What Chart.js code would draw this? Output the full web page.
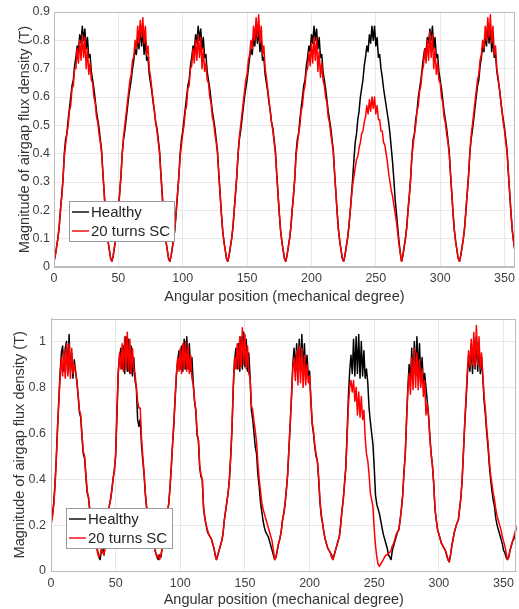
<!DOCTYPE html>
<html>
<head>
<meta charset="utf-8">
<script src="https://cdn.jsdelivr.net/npm/chart.js@4.4.0/dist/chart.umd.min.js"></script>
<style>
  body { margin: 0; background: #fff; }
  .wrap { position: absolute; left: 0; width: 519px; }
  #top { top: 0; height: 306px; }
  #bottom { top: 306px; height: 303px; }
</style>
</head>
<body>
<div class="wrap" id="top"><canvas id="fluxTop" width="519" height="306"></canvas></div>
<div class="wrap" id="bottom"><canvas id="fluxBottom" width="519" height="303"></canvas></div>
<script>
// airgap flux density magnitude, sampled every degree from 0 to 360
const angleStep = 1;
const seriesNames = ["Healthy", "20 turns SC"];
const seriesColors = ["#000000", "#ff0000"];
const xTickLabels = ["0", "50", "100", "150", "200", "250", "300", "350"];
const topYTickLabels = ["0", "0.1", "0.2", "0.3", "0.4", "0.5", "0.6", "0.7", "0.8", "0.9"];
const bottomYTickLabels = ["0", "0.2", "0.4", "0.6", "0.8", "1"];
const axisTitleX = "Angular position (mechanical degree)";
const axisTitleY = "Magnitude of airgap flux density (T)";

// upper plot
const topHealthy = [
  0.02,0.04,0.07,0.10,0.14,0.20,0.25,0.31,0.40,0.45,0.47,0.52,0.56,0.60,0.64,0.66,0.71,0.74,0.78,0.76,0.82,0.79,0.85,0.80,0.84,0.77,0.81,0.74,0.75,0.69,0.66,0.63,0.59,0.55,0.52,0.49,0.45,0.41,0.33,0.26,0.19,0.13,0.09,0.06,0.03,
  0.02,0.04,0.07,0.10,0.14,0.20,0.26,0.32,0.40,0.45,0.48,0.52,0.56,0.60,0.63,0.66,0.70,0.73,0.77,0.75,0.81,0.77,0.85,0.78,0.84,0.75,0.80,0.73,0.74,0.68,0.65,0.62,0.58,0.55,0.51,0.49,0.45,0.41,0.33,0.26,0.19,0.13,0.09,0.06,0.03,
  0.02,0.04,0.07,0.10,0.14,0.20,0.26,0.32,0.40,0.45,0.48,0.52,0.56,0.60,0.64,0.66,0.71,0.74,0.78,0.76,0.82,0.79,0.85,0.80,0.84,0.77,0.81,0.74,0.75,0.69,0.66,0.63,0.59,0.55,0.52,0.49,0.45,0.41,0.33,0.26,0.19,0.13,0.09,0.06,0.03,
  0.02,0.04,0.07,0.10,0.14,0.20,0.26,0.32,0.40,0.45,0.48,0.52,0.56,0.60,0.63,0.66,0.70,0.74,0.77,0.75,0.81,0.78,0.85,0.79,0.84,0.76,0.80,0.73,0.74,0.68,0.65,0.62,0.58,0.55,0.51,0.49,0.45,0.41,0.33,0.26,0.19,0.13,0.09,0.06,0.03,
  0.02,0.04,0.07,0.10,0.14,0.20,0.25,0.31,0.40,0.45,0.47,0.52,0.56,0.60,0.64,0.66,0.71,0.74,0.78,0.76,0.82,0.79,0.85,0.80,0.84,0.77,0.81,0.74,0.75,0.69,0.66,0.63,0.59,0.55,0.52,0.49,0.45,0.41,0.33,0.26,0.19,0.13,0.09,0.06,0.03,
  0.02,0.04,0.07,0.10,0.14,0.19,0.25,0.31,0.38,0.44,0.47,0.52,0.55,0.60,0.63,0.66,0.71,0.74,0.78,0.76,0.82,0.79,0.85,0.80,0.85,0.78,0.81,0.74,0.75,0.70,0.67,0.63,0.60,0.57,0.54,0.51,0.47,0.42,0.37,0.31,0.24,0.19,0.14,0.09,0.05,
  0.02,0.04,0.07,0.10,0.14,0.20,0.25,0.31,0.39,0.45,0.47,0.52,0.55,0.60,0.63,0.66,0.70,0.74,0.77,0.76,0.81,0.79,0.84,0.80,0.85,0.77,0.81,0.74,0.75,0.69,0.66,0.63,0.59,0.55,0.52,0.49,0.45,0.41,0.33,0.26,0.19,0.13,0.09,0.06,0.03,
  0.02,0.04,0.07,0.10,0.14,0.20,0.26,0.32,0.40,0.45,0.48,0.52,0.56,0.60,0.64,0.66,0.71,0.74,0.78,0.76,0.82,0.78,0.86,0.79,0.85,0.76,0.81,0.74,0.75,0.69,0.66,0.63,0.59,0.55,0.52,0.49,0.45,0.41,0.33,0.26,0.19,0.13,0.09,0.06,0.04,
  0.03
];
const topShorted = [
  0.02,0.04,0.07,0.10,0.14,0.20,0.25,0.31,0.39,0.43,0.47,0.50,0.55,0.57,0.63,0.64,0.70,0.70,0.77,0.72,0.80,0.73,0.82,0.74,0.81,0.70,0.77,0.68,0.72,0.66,0.65,0.60,0.58,0.53,0.51,0.47,0.44,0.40,0.33,0.26,0.19,0.13,0.09,0.06,0.03,
  0.02,0.04,0.07,0.10,0.14,0.20,0.26,0.32,0.40,0.46,0.50,0.54,0.58,0.62,0.66,0.68,0.73,0.74,0.80,0.77,0.85,0.79,0.87,0.81,0.88,0.79,0.85,0.75,0.78,0.70,0.67,0.63,0.59,0.55,0.51,0.48,0.44,0.40,0.33,0.26,0.19,0.13,0.09,0.06,0.03,
  0.02,0.04,0.07,0.10,0.14,0.20,0.26,0.32,0.39,0.43,0.47,0.50,0.55,0.57,0.63,0.64,0.70,0.71,0.77,0.72,0.80,0.73,0.82,0.74,0.81,0.70,0.77,0.69,0.72,0.66,0.65,0.60,0.58,0.53,0.51,0.47,0.44,0.40,0.33,0.26,0.19,0.13,0.09,0.06,0.03,
  0.02,0.04,0.07,0.10,0.14,0.20,0.26,0.32,0.40,0.46,0.50,0.54,0.58,0.62,0.66,0.68,0.73,0.75,0.80,0.77,0.85,0.80,0.88,0.81,0.89,0.79,0.85,0.75,0.78,0.70,0.67,0.63,0.59,0.55,0.51,0.48,0.44,0.40,0.33,0.26,0.19,0.13,0.09,0.06,0.03,
  0.02,0.04,0.07,0.10,0.14,0.20,0.25,0.31,0.39,0.43,0.47,0.50,0.55,0.57,0.62,0.64,0.69,0.70,0.76,0.71,0.79,0.72,0.81,0.73,0.81,0.69,0.76,0.67,0.72,0.66,0.64,0.60,0.58,0.53,0.51,0.47,0.44,0.40,0.33,0.26,0.19,0.13,0.09,0.06,0.03,
  0.02,0.04,0.07,0.10,0.14,0.19,0.24,0.29,0.32,0.35,0.38,0.39,0.42,0.44,0.47,0.48,0.51,0.53,0.57,0.54,0.59,0.55,0.60,0.56,0.60,0.54,0.57,0.52,0.52,0.48,0.48,0.44,0.43,0.40,0.37,0.33,0.30,0.27,0.25,0.22,0.19,0.16,0.12,0.08,0.05,
  0.02,0.04,0.07,0.10,0.14,0.20,0.25,0.31,0.39,0.43,0.47,0.50,0.55,0.57,0.62,0.64,0.69,0.71,0.77,0.72,0.80,0.73,0.83,0.74,0.82,0.70,0.77,0.68,0.72,0.66,0.65,0.60,0.58,0.53,0.51,0.47,0.44,0.40,0.33,0.26,0.19,0.13,0.09,0.06,0.03,
  0.02,0.04,0.07,0.10,0.14,0.20,0.26,0.32,0.40,0.46,0.50,0.54,0.58,0.62,0.66,0.68,0.73,0.75,0.80,0.77,0.85,0.80,0.88,0.81,0.89,0.79,0.85,0.75,0.78,0.70,0.67,0.63,0.59,0.55,0.51,0.48,0.44,0.40,0.33,0.26,0.19,0.13,0.09,0.06,0.04,
  0.03
];

// lower plot
const bottomHealthy = [
  0.22,0.24,0.29,0.37,0.48,0.62,0.74,0.86,0.95,0.98,0.87,0.97,1.00,0.86,1.03,0.87,0.95,0.84,0.92,0.87,0.83,0.76,0.69,0.67,0.58,0.51,0.49,0.41,0.34,0.32,0.26,0.22,0.19,0.17,0.14,0.11,0.09,0.06,0.05,0.09,0.10,0.07,0.12,0.18,0.23,
  0.28,0.31,0.35,0.40,0.44,0.50,0.68,0.86,0.93,0.97,0.88,0.98,0.86,1.02,0.87,1.01,0.86,0.98,0.85,0.93,0.83,0.80,0.66,0.63,0.66,0.55,0.48,0.42,0.33,0.27,0.24,0.21,0.18,0.15,0.12,0.10,0.08,0.06,0.05,0.07,0.06,0.10,0.14,0.18,0.22,
  0.26,0.29,0.36,0.45,0.55,0.64,0.75,0.85,0.92,0.96,0.88,0.98,0.87,1.01,0.88,1.02,0.88,0.99,0.87,0.93,0.82,0.74,0.70,0.59,0.57,0.45,0.41,0.40,0.27,0.23,0.20,0.17,0.16,0.15,0.14,0.12,0.10,0.07,0.05,0.07,0.09,0.11,0.13,0.16,0.22,
  0.26,0.30,0.34,0.40,0.50,0.62,0.80,0.92,0.97,0.88,0.99,0.87,1.02,0.88,1.04,0.89,1.01,0.87,0.95,0.84,0.70,0.66,0.60,0.54,0.51,0.42,0.37,0.30,0.26,0.22,0.19,0.17,0.16,0.15,0.13,0.11,0.09,0.07,0.05,0.06,0.09,0.12,0.14,0.17,0.22,
  0.25,0.29,0.35,0.42,0.53,0.64,0.76,0.90,0.97,0.87,0.99,0.86,1.01,0.87,1.03,0.86,0.99,0.85,0.94,0.85,0.87,0.74,0.64,0.60,0.54,0.50,0.48,0.40,0.30,0.24,0.21,0.17,0.14,0.12,0.10,0.09,0.08,0.07,0.05,0.07,0.09,0.11,0.13,0.15,0.20,
  0.26,0.31,0.38,0.45,0.60,0.76,0.87,0.94,0.86,1.01,0.85,1.02,0.86,1.03,0.84,1.00,0.85,0.96,0.84,0.88,0.82,0.71,0.65,0.60,0.55,0.45,0.33,0.29,0.27,0.25,0.22,0.19,0.16,0.14,0.12,0.10,0.07,0.06,0.05,0.09,0.11,0.13,0.15,0.17,0.18,
  0.22,0.27,0.33,0.43,0.51,0.66,0.80,0.90,0.83,0.97,0.84,1.00,0.85,1.02,0.86,0.99,0.84,0.93,0.82,0.86,0.80,0.74,0.68,0.59,0.51,0.46,0.38,0.27,0.22,0.18,0.16,0.14,0.12,0.11,0.10,0.09,0.07,0.05,0.04,0.07,0.11,0.14,0.17,0.19,0.21,
  0.22,0.27,0.32,0.40,0.52,0.64,0.74,0.85,0.94,0.87,0.99,0.86,1.01,0.88,1.02,0.87,0.99,0.86,0.93,0.84,0.74,0.68,0.60,0.54,0.46,0.40,0.35,0.31,0.28,0.23,0.20,0.18,0.16,0.14,0.12,0.09,0.08,0.06,0.05,0.06,0.09,0.11,0.13,0.14,0.16,
  0.19
];
const bottomShorted = [
  0.20,0.23,0.28,0.36,0.47,0.61,0.73,0.84,0.93,0.85,0.96,0.84,0.99,0.85,0.99,0.84,0.97,0.86,0.90,0.87,0.82,0.77,0.70,0.68,0.59,0.52,0.50,0.42,0.35,0.32,0.27,0.23,0.20,0.17,0.14,0.11,0.08,0.06,0.07,0.10,0.08,0.07,0.12,0.18,0.23,
  0.28,0.31,0.35,0.40,0.44,0.51,0.70,0.87,0.95,0.88,0.99,0.87,1.02,0.88,1.04,0.87,1.01,0.86,0.97,0.88,0.86,0.80,0.74,0.71,0.71,0.58,0.50,0.43,0.34,0.28,0.25,0.22,0.18,0.15,0.12,0.10,0.08,0.06,0.07,0.05,0.07,0.10,0.14,0.18,0.21,
  0.25,0.29,0.36,0.45,0.55,0.64,0.76,0.86,0.93,0.87,0.97,0.86,0.99,0.88,1.00,0.87,0.98,0.86,0.94,0.84,0.81,0.75,0.70,0.60,0.57,0.46,0.42,0.40,0.28,0.23,0.20,0.18,0.16,0.15,0.14,0.12,0.10,0.07,0.05,0.07,0.09,0.11,0.13,0.16,0.22,
  0.26,0.30,0.34,0.40,0.50,0.63,0.81,0.93,0.88,0.99,0.88,1.02,0.89,1.06,0.90,1.03,0.88,0.98,0.86,0.84,0.72,0.70,0.65,0.61,0.56,0.47,0.40,0.35,0.30,0.27,0.25,0.23,0.21,0.19,0.17,0.15,0.13,0.09,0.05,0.06,0.09,0.12,0.14,0.17,0.22,
  0.25,0.29,0.35,0.42,0.53,0.64,0.76,0.88,0.93,0.83,0.96,0.81,0.98,0.82,0.97,0.80,0.94,0.81,0.90,0.82,0.85,0.75,0.65,0.61,0.55,0.51,0.48,0.41,0.31,0.25,0.21,0.17,0.14,0.12,0.10,0.09,0.08,0.06,0.05,0.07,0.09,0.11,0.13,0.15,0.20,
  0.26,0.31,0.38,0.45,0.58,0.72,0.80,0.83,0.78,0.83,0.74,0.80,0.68,0.78,0.67,0.76,0.66,0.70,0.58,0.51,0.48,0.42,0.34,0.31,0.28,0.18,0.11,0.06,0.03,0.02,0.03,0.04,0.05,0.06,0.07,0.07,0.08,0.08,0.09,0.11,0.12,0.14,0.16,0.17,0.18,
  0.22,0.27,0.33,0.43,0.51,0.66,0.79,0.86,0.77,0.93,0.79,0.97,0.80,0.95,0.79,0.92,0.80,0.88,0.76,0.83,0.68,0.73,0.67,0.58,0.51,0.46,0.38,0.27,0.22,0.18,0.16,0.14,0.12,0.11,0.10,0.09,0.07,0.05,0.04,0.07,0.11,0.14,0.17,0.19,0.21,
  0.22,0.27,0.32,0.40,0.52,0.65,0.76,0.87,0.96,0.89,1.01,0.90,1.04,0.89,1.07,0.90,1.02,0.88,0.95,0.85,0.76,0.70,0.62,0.56,0.48,0.42,0.38,0.34,0.31,0.27,0.24,0.22,0.20,0.18,0.15,0.13,0.11,0.08,0.05,0.06,0.09,0.11,0.13,0.15,0.17,
  0.20
];

const fontFamily = '"Liberation Sans", Arial, sans-serif';
Chart.defaults.font.family = fontFamily;

function toPoints(values) {
  return values.map((v, i) => ({ x: i * angleStep, y: v }));
}

// axes box on all four sides plus a boxed legend in the lower left corner
const boxAndLegend = {
  id: 'boxAndLegend',
  afterDatasetsDraw(chart, args, opts) {
    const { ctx, chartArea: a } = chart;
    ctx.save();
    ctx.strokeStyle = '#bdbdbd';
    ctx.lineWidth = 1;
    ctx.strokeRect(Math.round(a.left) + 0.5, Math.round(a.top) + 0.5,
      Math.round(a.width) - 1, Math.round(a.height) - 1);

    const x = Math.round(a.left + opts.dx);
    const y = Math.round(a.bottom - opts.dy);
    ctx.fillStyle = '#ffffff';
    ctx.fillRect(x, y, opts.w, opts.h);
    ctx.strokeStyle = '#9a9a9a';
    ctx.strokeRect(x + 0.5, y + 0.5, opts.w, opts.h);

    ctx.font = '15px ' + fontFamily;
    ctx.textBaseline = 'middle';
    chart.data.datasets.forEach((ds, i) => {
      const ly = y + 11 + i * 19;
      ctx.strokeStyle = ds.borderColor;
      ctx.lineWidth = 1.4;
      ctx.beginPath();
      ctx.moveTo(x + 3, ly);
      ctx.lineTo(x + 20, ly);
      ctx.stroke();
      ctx.fillStyle = '#262626';
      ctx.fillText(ds.label, x + 22, ly + 1);
    });
    ctx.restore();
  }
};

function makeChart(canvasId, healthy, shorted, cfg) {
  const datasets = [healthy, shorted].map((vals, i) => ({
    label: seriesNames[i],
    data: toPoints(vals),
    borderColor: seriesColors[i],
    borderWidth: 1.5,
    borderJoinStyle: 'round',
    pointRadius: 0,
    tension: 0,
    order: 1 - i
  }));

  return new Chart(document.getElementById(canvasId), {
    type: 'line',
    data: { datasets },
    plugins: [boxAndLegend],
    options: {
      responsive: false,
      animation: false,
      devicePixelRatio: 1,
      layout: { padding: { top: cfg.padTop, right: 1, left: 0, bottom: 0 } },
      plugins: {
        legend: { display: false },
        tooltip: { enabled: false },
        boxAndLegend: cfg.legend
      },
      scales: {
        x: {
          type: 'linear',
          min: 0,
          max: cfg.xMax,
          afterFit: s => { s.height = cfg.xAxisHeight; },
          grid: { color: '#e8e8e8', drawTicks: false },
          border: { color: '#bdbdbd' },
          ticks: {
            stepSize: 50,
            includeBounds: false,
            padding: cfg.xTickPad,
            color: '#404040',
            font: { size: 12.5 },
            maxRotation: 0,
            callback: (v, i) => xTickLabels[i]
          },
          title: {
            display: true,
            text: axisTitleX,
            color: '#333333',
            font: { size: 14.5 },
            padding: { top: 0, bottom: 0 }
          }
        },
        y: {
          min: 0,
          max: cfg.yMax,
          afterFit: s => { s.width = cfg.yAxisWidth; },
          grid: { color: '#e8e8e8', drawTicks: false },
          border: { color: '#bdbdbd' },
          ticks: {
            stepSize: cfg.yStep,
            includeBounds: false,
            padding: cfg.yTickPad,
            color: '#404040',
            font: { size: 12.5 },
            callback: (v, i) => cfg.yLabels[i]
          },
          title: {
            display: true,
            text: axisTitleY,
            color: '#333333',
            font: { size: 14.5 },
            padding: { top: cfg.yTitlePad, bottom: 0 }
          }
        }
      }
    }
  });
}

makeChart('fluxTop', topHealthy, topShorted, {
  padTop: 12, xMax: 358, xAxisHeight: 39, xTickPad: 4,
  yMax: 0.9, yStep: 0.1, yAxisWidth: 54, yTickPad: 4, yTitlePad: 16,
  yLabels: topYTickLabels,
  legend: { dx: 15, dy: 66, w: 105, h: 40 }
});

makeChart('fluxBottom', bottomHealthy, bottomShorted, {
  padTop: 9, xMax: 360, xAxisHeight: 38, xTickPad: 5,
  yMax: 1.1, yStep: 0.2, yAxisWidth: 51, yTickPad: 5, yTitlePad: 11,
  yLabels: bottomYTickLabels,
  legend: { dx: 15, dy: 63, w: 106, h: 40 }
});
</script>
</body>
</html>
